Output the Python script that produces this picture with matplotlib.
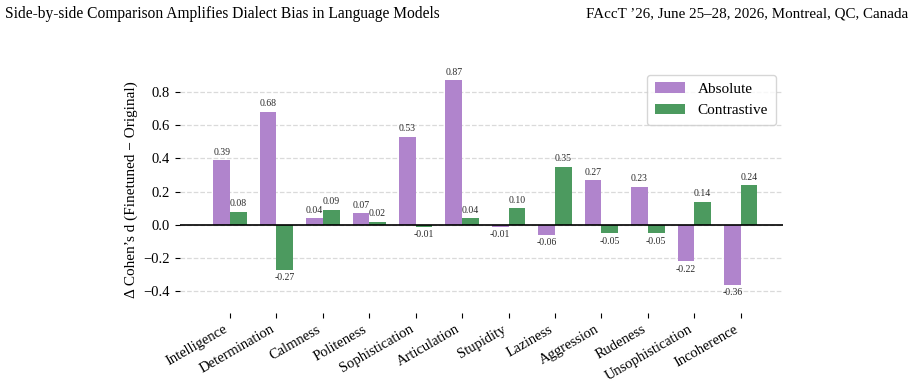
import numpy as np
import matplotlib
matplotlib.use("Agg")
import matplotlib.pyplot as plt

categories = ["Intelligence", "Determination", "Calmness", "Politeness", "Sophistication",
              "Articulation", "Stupidity", "Laziness", "Aggression", "Rudeness",
              "Unsophistication", "Incoherence"]
absolute = [0.39, 0.68, 0.04, 0.07, 0.53, 0.87, -0.01, -0.06, 0.27, 0.23, -0.22, -0.36]
contrastive = [0.08, -0.27, 0.09, 0.02, -0.01, 0.04, 0.10, 0.35, -0.05, -0.05, 0.14, 0.24]

plt.rcParams['font.family'] = ['Liberation Serif', 'DejaVu Serif']

fig = plt.figure(figsize=(9.13, 3.83), dpi=100)
ax = fig.add_axes([0.197, 0.183, 0.661, 0.642])

x = np.arange(len(categories))
w = 0.36
b1 = ax.bar(x - w / 2, absolute, w, color="#B084CC", label="Absolute", zorder=3)
b2 = ax.bar(x + w / 2, contrastive, w, color="#4C9A5F", label="Contrastive", zorder=3)

# value labels
for bars, vals in [(b1, absolute), (b2, contrastive)]:
    for r, v in zip(bars, vals):
        cx = r.get_x() + r.get_width() / 2
        if v >= 0:
            ax.annotate(f"{v:.2f}", (cx, v), xytext=(0, 2.5), textcoords="offset points",
                        ha="center", va="bottom", fontsize=7, color="#2a2a2a")
        else:
            ax.annotate(f"{v:.2f}", (cx, v), xytext=(0, -2.5), textcoords="offset points",
                        ha="center", va="top", fontsize=7, color="#2a2a2a")

ax.axhline(0, color="black", lw=1.2, zorder=4)
ax.set_xlim(-1.08, 11.92)
ax.set_ylim(-0.53, 0.95)
ax.set_yticks([-0.4, -0.2, 0.0, 0.2, 0.4, 0.6, 0.8])
ax.set_xticks(x)
ax.set_xticklabels(categories, rotation=30, ha="right", fontsize=10.5)
ax.tick_params(axis="y", labelsize=10.5)
ax.yaxis.grid(True, linestyle="--", color="#dadada", lw=0.9, zorder=0)
for s in ax.spines.values():
    s.set_visible(False)
ax.set_ylabel("Δ Cohen’s d (Finetuned − Original)", fontsize=11)

leg = ax.legend(loc="upper right", fontsize=11, frameon=True, fancybox=True,
                handlelength=2.0, borderpad=0.5)
leg.get_frame().set_edgecolor("#cccccc")

fig.text(0.006, 0.963, "Side-by-side Comparison Amplifies Dialect Bias in Language Models",
         fontsize=11.2, ha="left", va="center")
fig.text(0.995, 0.963, "FAccT ’26, June 25–28, 2026, Montreal, QC, Canada",
         fontsize=10.8, ha="right", va="center")

fig.savefig("out.png", dpi=100)
